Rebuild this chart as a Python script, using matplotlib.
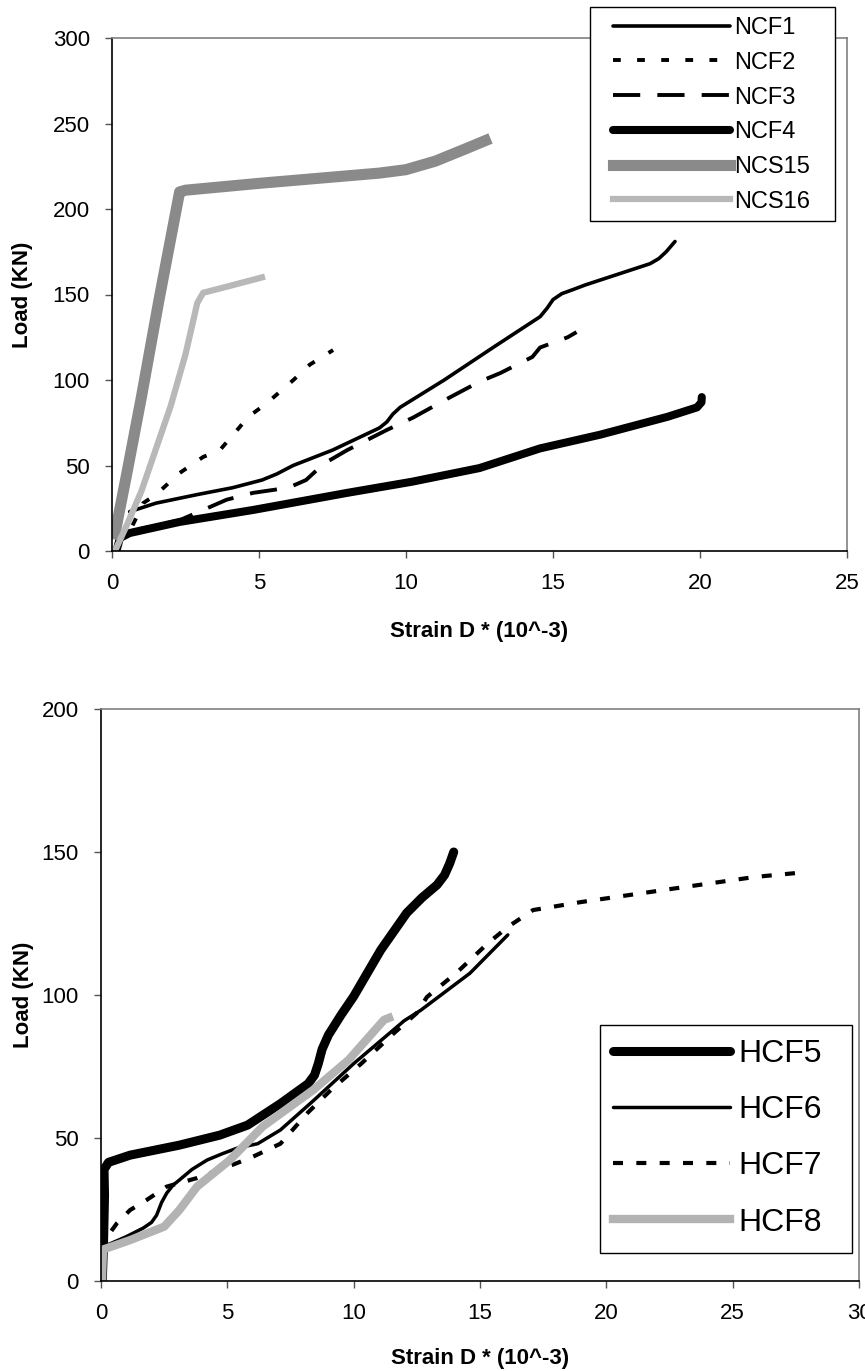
import matplotlib
matplotlib.use("Agg")
import matplotlib.pyplot as plt
from matplotlib.patches import Rectangle

plt.rcParams['font.family'] = ['Liberation Sans', 'DejaVu Sans']

# ---------------- Upper chart: NCF / NCS specimens ----------------
ncf1_x = [0.6, 1.5, 2.9, 4.1, 5.1, 5.6, 6.16, 7.5, 9.1, 9.35, 9.55, 9.8, 11.3, 12.96, 14.56, 14.8, 15.0, 15.3, 15.7, 16.1, 18.3, 18.6, 18.85, 19.15]
ncf1_y = [23, 28, 33, 37, 41.5, 45, 50, 59, 72, 75.5, 80, 84, 100, 119, 137, 142, 147, 150.5, 153, 155.6, 168, 171, 175, 181]

ncf2_x = [0.7, 0.9, 1.06, 1.5, 2.3, 3.1, 3.67, 4.35, 4.6, 5.27, 6.17, 6.73, 7.52]
ncf2_y = [15, 22, 28, 33, 45.6, 55, 59, 72.6, 78, 86.5, 100, 109, 117.5]

ncf3_x = [0.4, 1.0, 2.3, 3.9, 4.8, 6.0, 6.6, 7.2, 8.0, 9.35, 10.24, 11.4, 12.5, 13.2, 14.3, 14.56, 15.5, 15.8]
ncf3_y = [10, 13, 18, 30, 34, 37, 41.5, 51, 59, 70.8, 78, 89, 99, 104, 113.5, 119, 125, 128]

ncf4_x = [0.15, 0.27, 0.6, 2.3, 4.8, 8.0, 10.2, 12.5, 14.56, 16.6, 18.9, 19.9, 20.05, 20.06]
ncf4_y = [0, 7.6, 10.5, 17, 24, 34, 40.5, 48.5, 60, 68, 78.5, 84, 87, 90]

ncs15_x = [0.1, 0.5, 1.0, 1.6, 2.0, 2.3, 2.5, 5.0, 9.1, 10.0, 11.0, 12.0, 12.7]
ncs15_y = [10, 45, 90, 147, 183, 210, 211, 215, 221, 223, 228, 235, 240]

ncs16_x = [0.1, 0.5, 1.0, 1.5, 2.0, 2.5, 2.9, 3.1, 4.0, 5.1]
ncs16_y = [0, 15, 35, 60, 85, 115, 145, 151, 155, 160]

# ---------------- Lower chart: HCF specimens ----------------
hcf5_x = [0.05, 0.1, 0.14, 0.12, 0.3, 1.15, 3.1, 4.7, 5.8, 7.1, 8.2, 8.45, 8.6, 8.75, 9.0, 9.5, 10.0, 11.07, 12.1, 12.7, 13.3, 13.6, 13.8, 13.96]
hcf5_y = [0, 13, 30, 39, 41.5, 44, 47.5, 51, 54.5, 62, 69, 72, 76, 81, 86, 93, 99.5, 115.7, 128.7, 134, 138.5, 142, 146, 150]

hcf6_x = [0.1, 1.0, 1.67, 2.0, 2.2, 2.4, 2.6, 2.85, 3.1, 3.6, 4.2, 4.8, 5.4, 6.2, 7.1, 8.4, 10.0, 12.0, 12.66, 14.6, 16.1]
hcf6_y = [12, 15.5, 18.5, 20.5, 23, 27.5, 30.7, 33.5, 35.3, 39, 42.3, 44.5, 46.5, 48, 52.8, 63, 76, 91, 94.7, 107.6, 121]

hcf7_x = [0.1, 0.24, 0.63, 1.15, 1.8, 2.6, 3.8, 5.2, 6.0, 7.1, 8.2, 9.1, 10.3, 11.6, 12.5, 12.9, 14.1, 15.3, 16.1, 17.1, 19.0, 22.5, 25.9, 27.94]
hcf7_y = [10, 15.4, 20.2, 24.8, 28.3, 33, 36, 40.6, 43.4, 48, 59, 66.8, 76, 86.7, 93.7, 99.3, 108, 118, 123.8, 129.7, 132.5, 137, 141.3, 143]

hcf8_x = [0.04, 0.08, 1.15, 2.5, 3.1, 3.8, 5.1, 6.4, 8.4, 9.8, 11.2, 11.4]
hcf8_y = [0, 11, 14.3, 19, 24.8, 33, 42.3, 54, 66.8, 77.3, 91.3, 92]

W, H = 865, 1371
fig = plt.figure(figsize=(W / 100, H / 100), dpi=100)


def axes_px(left, top, right, bottom):
    return fig.add_axes([left / W, 1 - bottom / H, (right - left) / W, (bottom - top) / H])


def frame_px(left, top, right, bottom):
    rect = Rectangle((left / W, 1 - bottom / H), (right - left) / W, (bottom - top) / H,
                     transform=fig.transFigure, facecolor='white', edgecolor='black',
                     linewidth=1.0, zorder=2)
    fig.add_artist(rect)


def style_axes(ax):
    for side in ('top', 'right'):
        ax.spines[side].set_color('#808080')
        ax.spines[side].set_linewidth(1.2)
    for side in ('left', 'bottom'):
        ax.spines[side].set_color('black')
        ax.spines[side].set_linewidth(1.2)
    ax.tick_params(direction='out', length=5, width=1, color='#555555',
                   labelsize=16, pad=11)
    ax.set_xlabel('Strain D * (10^-3)', fontsize=16, fontweight='bold')
    ax.set_ylabel('Load (KN)', fontsize=16, fontweight='bold')


# Upper chart
ax1 = axes_px(112, 38, 847, 551)
l1 = ax1.plot(ncf1_x, ncf1_y, color='black', lw=2.6, solid_capstyle='round', label='NCF1')
l2 = ax1.plot(ncf2_x, ncf2_y, color='black', lw=2.8, dashes=(2.0, 4.2), label='NCF2')
l3 = ax1.plot(ncf3_x, ncf3_y, color='black', lw=2.8, dashes=(7.0, 4.4), label='NCF3')
l4 = ax1.plot(ncf4_x, ncf4_y, color='black', lw=5.8, solid_capstyle='round', label='NCF4')
l5 = ax1.plot(ncs15_x, ncs15_y, color='#8a8a8a', lw=8.0, label='NCS15')
l6 = ax1.plot(ncs16_x, ncs16_y, color='#b8b8b8', lw=4.5, label='NCS16')
ax1.set_xlim(0, 25)
ax1.set_ylim(0, 300)
ax1.set_xticks(range(0, 26, 5))
ax1.set_yticks(range(0, 301, 50))
style_axes(ax1)
ax1.xaxis.set_label_coords(0.5, -0.136)
ax1.yaxis.set_label_coords(-0.107, 0.5)

frame_px(590, 7, 835, 221)
fig.legend(handles=l1 + l2 + l3 + l4 + l5 + l6, loc='upper left',
           bbox_to_anchor=(613 / W, 1 - 17 / H), bbox_transform=fig.transFigure,
           borderaxespad=0, borderpad=0, frameon=False,
           fontsize=17, handlelength=4.95, handletextpad=0.2, labelspacing=0.54)

# Lower chart
ax2 = axes_px(101, 709, 859, 1281)
m1 = ax2.plot(hcf5_x, hcf5_y, color='black', lw=6.5, solid_capstyle='round', label='HCF5')
m2 = ax2.plot(hcf6_x, hcf6_y, color='black', lw=2.5, solid_capstyle='round', label='HCF6')
m3 = ax2.plot(hcf7_x, hcf7_y, color='black', lw=3.0, dashes=(2.4, 3.2), label='HCF7')
m4 = ax2.plot(hcf8_x, hcf8_y, color='#b3b3b3', lw=6.0, label='HCF8')
ax2.set_xlim(0, 30)
ax2.set_ylim(0, 200)
ax2.set_xticks(range(0, 31, 5))
ax2.set_yticks(range(0, 201, 50))
style_axes(ax2)
ax2.xaxis.set_label_coords(0.5, -0.117)
ax2.yaxis.set_label_coords(-0.088, 0.5)

frame_px(600, 1025, 852, 1253)
fig.legend(handles=m1 + m2 + m3 + m4, loc='upper left',
           bbox_to_anchor=(613 / W, 1 - 1039 / H), bbox_transform=fig.transFigure,
           borderaxespad=0, borderpad=0, frameon=False,
           fontsize=23, handlelength=3.67, handletextpad=0.25, labelspacing=0.82)

fig.savefig('out.png', dpi=100)
